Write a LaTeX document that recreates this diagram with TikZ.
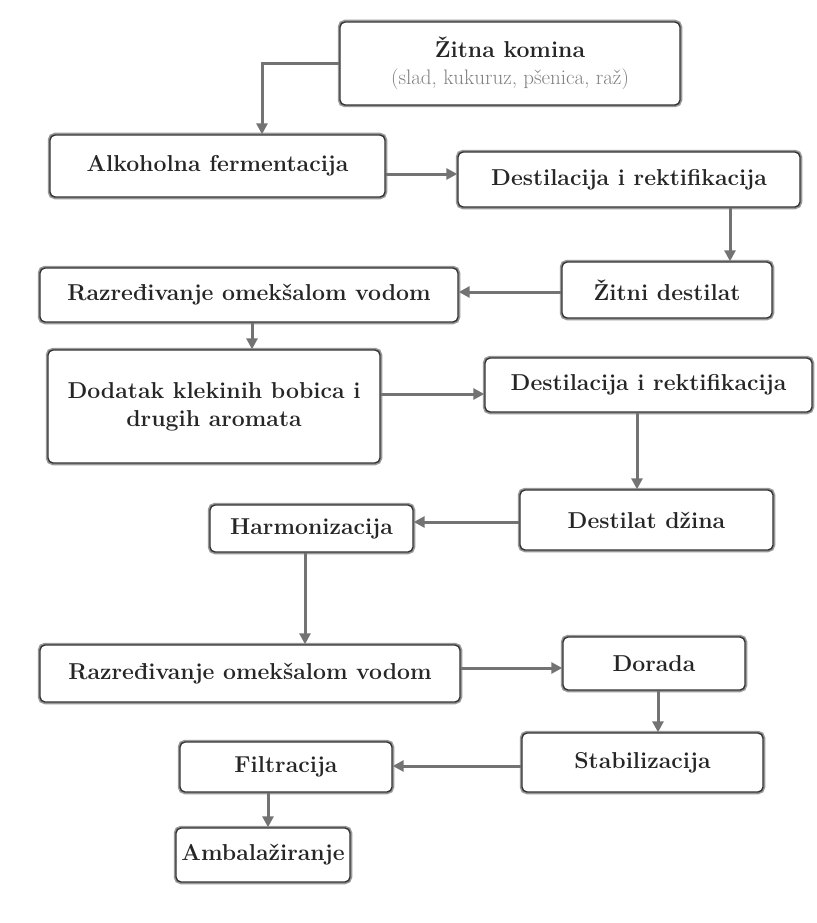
\documentclass[tikz,border=0pt]{standalone}
\usepackage{fontspec}
\usetikzlibrary{arrows.meta}
\begin{document}
\begin{tikzpicture}[x=1pt,y=-1pt,
  box/.style={rounded corners=5pt, draw=black!80, line width=1.4pt,
    preaction={draw=black!40, line width=4.5pt},
    fill=white, align=center, inner sep=2pt, text=black!85,
    font=\fontsize{23}{28}\selectfont\bfseries},
  arr/.style={draw=black!55, line width=3pt,
    -{Triangle[length=11pt,width=11pt]}}]
\useasboundingbox (0,0) rectangle (816,923);
\node[box, minimum width=340pt, minimum height=83pt] (zk) at (510,63.5)
  {Žitna komina\\[-1pt]{\mdseries\color{black!50}\fontsize{21}{24}\selectfont\addfontfeatures{FakeStretch=1.25}(slad, kukuruz, pšenica, raž)}};
\node[box, minimum width=335pt, minimum height=62pt] (af) at (217.5,166) {Alkoholna fermentacija};
\node[box, minimum width=342pt, minimum height=55pt] (dr1) at (629,179.5) {Destilacija i rektifikacija};
\node[box, minimum width=210pt, minimum height=56pt] (zd) at (667,290) {Žitni destilat};
\node[box, minimum width=418pt, minimum height=54pt] (rv1) at (249,295) {Razređivanje omekšalom vodom};
\node[box, minimum width=332pt, minimum height=113pt] (dk) at (214,406.5) {Dodatak klekinih bobica i\\drugih aromata};
\node[box, minimum width=327pt, minimum height=54pt] (dr2) at (648.5,385) {Destilacija i rektifikacija};
\node[box, minimum width=253pt, minimum height=60pt] (dz) at (646.5,520) {Destilat džina};
\node[box, minimum width=203pt, minimum height=47pt] (hz) at (311.5,528.5) {Harmonizacija};
\node[box, minimum width=420pt, minimum height=57pt] (rv2) at (250,673.5) {Razređivanje omekšalom vodom};
\node[box, minimum width=182pt, minimum height=53pt] (do) at (654,663.5) {Dorada};
\node[box, minimum width=241pt, minimum height=59pt] (st) at (642.5,762.5) {Stabilizacija};
\node[box, minimum width=212pt, minimum height=50pt] (fi) at (286,767) {Filtracija};
\node[box, minimum width=174pt, minimum height=54pt] (am) at (263,855) {Ambalažiranje};
\coordinate (k1) at (262,0);
\coordinate (k2) at (0,174);
\coordinate (k3) at (730,0);
\coordinate (k4) at (0,292);
\coordinate (k5) at (252,0);
\coordinate (k6) at (0,394);
\coordinate (k7) at (637,0);
\coordinate (k8) at (0,522);
\coordinate (k9) at (305,0);
\coordinate (k10) at (0,668);
\coordinate (k11) at (658,0);
\coordinate (k12) at (0,766);
\coordinate (k13) at (268,0);
\draw[arr] (zk.west) -| (k1 |- af.north);
\draw[arr] (af.east |- k2) -- (dr1.west |- k2);
\draw[arr] (k3 |- dr1.south) -- (k3 |- zd.north);
\draw[arr] (zd.west |- k4) -- (rv1.east |- k4);
\draw[arr] (k5 |- rv1.south) -- (k5 |- dk.north);
\draw[arr] (dk.east |- k6) -- (dr2.west |- k6);
\draw[arr] (k7 |- dr2.south) -- (k7 |- dz.north);
\draw[arr] (dz.west |- k8) -- (hz.east |- k8);
\draw[arr] (k9 |- hz.south) -- (k9 |- rv2.north);
\draw[arr] (rv2.east |- k10) -- (do.west |- k10);
\draw[arr] (k11 |- do.south) -- (k11 |- st.north);
\draw[arr] (st.west |- k12) -- (fi.east |- k12);
\draw[arr] (k13 |- fi.south) -- (k13 |- am.north);
\end{tikzpicture}
\end{document}
